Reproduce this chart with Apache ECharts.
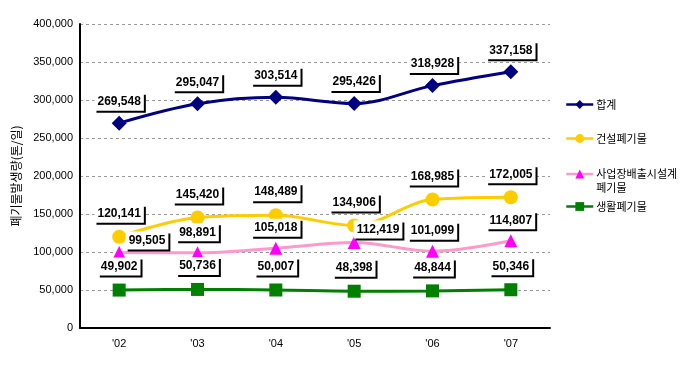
<!DOCTYPE html>
<html><head><meta charset="utf-8">
<script src="https://cdn.jsdelivr.net/npm/echarts@6/dist/echarts.min.js"></script>
<style>html,body{margin:0;padding:0;background:#fff}#c{width:689px;height:370px}</style>
</head><body><div id="c"></div>
<script>
const categories = ["'02", "'03", "'04", "'05", "'06", "'07"];
const totalVals = [269548, 295047, 303514, 295426, 318928, 337158];
const constructionVals = [120141, 145420, 148489, 134906, 168985, 172005];
const industrialVals = [99505, 98891, 105018, 112419, 101099, 114807];
const householdVals = [49902, 50736, 50007, 48398, 48844, 50346];
const yTicks = [0, 50000, 100000, 150000, 200000, 250000, 300000, 350000, 400000];
const seriesNames = ['합계', '건설폐기물', '사업장배출시설계폐기물', '생활폐기물'];

const fmt = v => v.toLocaleString('en-US');
const labelBase = {
  show: true, position: 'top', distance: 5,
  formatter: p => fmt(p.value),
  fontFamily: 'Liberation Sans, Arial, sans-serif', fontWeight: 'bold', fontSize: 12, color: '#000',
  backgroundColor: '#fff', padding: [3, 3, 3, 3],
  shadowColor: '#000', shadowOffsetX: 2, shadowOffsetY: 2, shadowBlur: 0
};
function mk(vals, overrides) {
  return vals.map((v, i) => overrides && overrides[i] ? { value: v, label: overrides[i] } : v);
}
const chart = echarts.init(document.getElementById('c'));
const legendCommon = { orient: 'vertical', left: 560, itemWidth: 27, itemHeight: 11, itemGap: 3,
  lineStyle: { width: 2.5 },
  textStyle: { fontFamily: 'Noto Sans CJK KR, sans-serif', fontSize: 11, color: '#000', padding: [0,0,0,-2] } };
chart.setOption({
  animation: false,
  grid: { left: 80, right: 139, top: 24, bottom: 42 },
  legend: [
    Object.assign({}, legendCommon, { data: [seriesNames[0]], top: 94 }),
    Object.assign({}, legendCommon, { data: [seriesNames[1]], top: 128 }),
    Object.assign({}, legendCommon, { data: [seriesNames[2]], top: 148, formatter: () => '\n사업장배출시설계\n폐기물', textStyle: Object.assign({}, legendCommon.textStyle, { lineHeight: 14 }) }),
    Object.assign({}, legendCommon, { data: [seriesNames[3]], top: 196 })
  ],
  xAxis: {
    type: 'category', data: categories, boundaryGap: true,
    axisLine: { lineStyle: { color: '#000', width: 2 } },
    axisTick: { inside: true, length: 4, lineStyle: { color: '#000', width: 1 } },
    axisLabel: { color: '#000', fontSize: 11, fontFamily: 'Liberation Sans, Arial, sans-serif', margin: 10 }
  },
  yAxis: {
    type: 'value', min: 0, max: 400000, interval: 50000,
    name: '폐기물발생량(톤/일)', nameLocation: 'middle', nameRotate: 90, nameGap: 58,
    nameTextStyle: { fontFamily: 'Noto Sans CJK KR, sans-serif', fontSize: 12, color: '#000' },
    axisLine: { show: true, lineStyle: { color: '#000', width: 2 } },
    axisTick: { show: false },
    axisLabel: { color: '#000', fontSize: 11, fontFamily: 'Liberation Sans, Arial, sans-serif', margin: 7,
      formatter: v => yTicks.includes(v) ? fmt(v) : '' },
    splitLine: { lineStyle: { color: '#999', type: [3, 3], width: 1 } }
  },
  series: [
    { name: seriesNames[0], type: 'line', data: mk(totalVals), smooth: 0.35,
      symbol: 'diamond', symbolSize: 15, lineStyle: { color: '#000080', width: 3 }, itemStyle: { color: '#000080' },
      label: labelBase },
    { name: seriesNames[1], type: 'line', data: mk(constructionVals), smooth: 0.35,
      symbol: 'circle', symbolSize: 14, lineStyle: { color: '#FFCC00', width: 3 }, itemStyle: { color: '#FFCC00' },
      label: Object.assign({}, labelBase, { distance: 7 }) },
    { name: seriesNames[2], type: 'line', data: mk(industrialVals, {
        0: { position: 'right', distance: 0, offset: [0, -12] },
        3: { position: 'right', distance: -7, offset: [0, -13] } }), smooth: 0.35,
      symbol: 'triangle', symbolSize: 13, lineStyle: { color: '#FF99CC', width: 3 }, itemStyle: { color: '#FF00FF' },
      label: labelBase },
    { name: seriesNames[3], type: 'line', data: mk(householdVals), smooth: 0.35,
      symbol: 'rect', symbolSize: 13, lineStyle: { color: '#008000', width: 3 }, itemStyle: { color: '#008000' },
      label: Object.assign({}, labelBase, { distance: 8 }) }
  ]
});
</script></body></html>
